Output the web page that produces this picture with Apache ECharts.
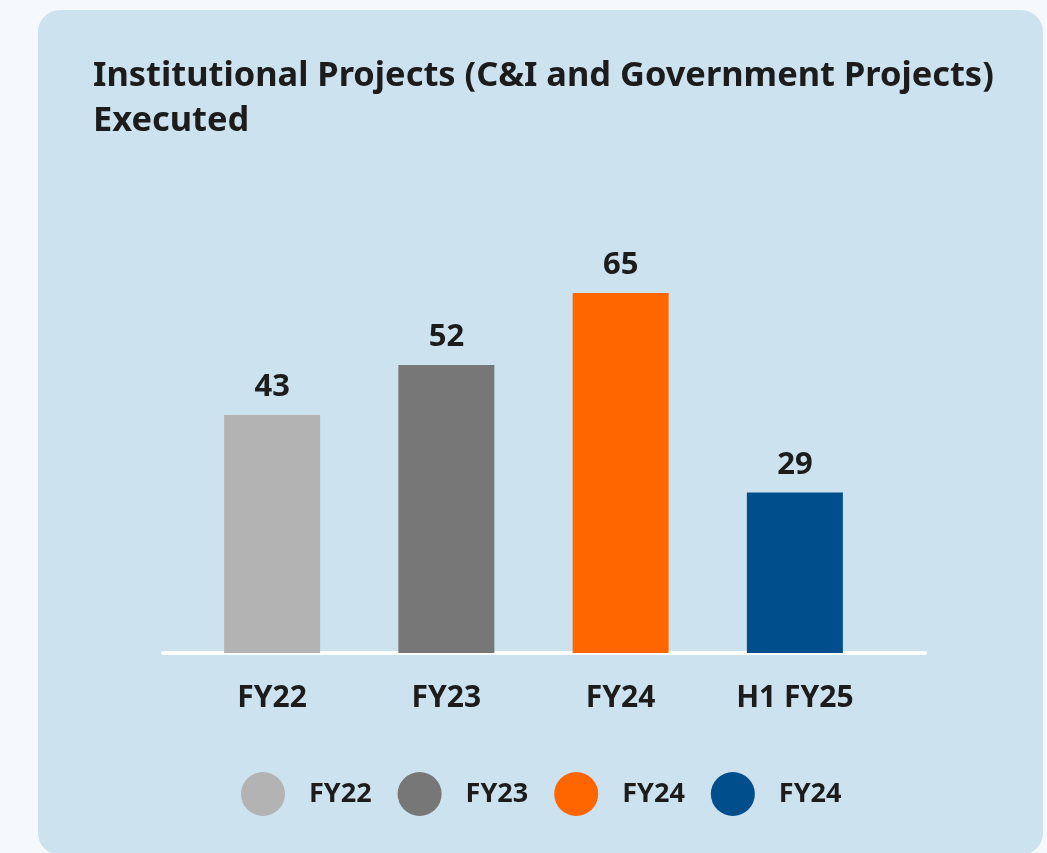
<!DOCTYPE html>
<html>
<head>
<meta charset="utf-8" />
<title>Institutional Projects Executed</title>
<script src="https://cdn.jsdelivr.net/npm/echarts@6/dist/echarts.min.js"></script>
<style>
  html,
  body {
    margin: 0;
    padding: 0;
    width: 1047px;
    height: 853px;
    overflow: hidden;
    background: #f5f9fc;
  }
  .panel {
    position: absolute;
    left: 38px;
    top: 10px;
    width: 1005px;
    height: 845px;
    border-radius: 22px;
    background: #cce2ef;
  }
  #projects_chart {
    position: absolute;
    left: 0;
    top: 0;
    width: 1047px;
    height: 853px;
  }
</style>
</head>
<body>
<div class="panel"></div>
<div id="projects_chart"></div>

<script>
  // data
  const categories = ["FY22", "FY23", "FY24", "H1 FY25"];
  const values = [43, 52, 65, 29];
  // legend text as printed in the original (last one really says FY24)
  const legendLabels = ["FY22", "FY23", "FY24", "FY24"];

  const barColors = ["#b3b3b3", "#777777", "#ff6600", "#004f8c"];
  const textColor = "#1c1c1c";
  const fontFamily = "'Noto Sans', sans-serif";

  const chartDom = document.getElementById("projects_chart");
  const projectsChart = echarts.init(chartDom, null, { renderer: "canvas" });

  // one series per year so each gets its own colour and legend entry
  const series = categories.map(function (name, i) {
    return {
      name: name,
      type: "bar",
      xAxisIndex: 0,
      yAxisIndex: 0,
      barWidth: 96,
      barGap: "-100%",
      data: values.map(function (v, j) {
        return j === i ? v : "-";
      }),
      itemStyle: {
        color: barColors[i],
      },
      label: {
        show: true,
        position: "top",
        distance: 12,
        color: textColor,
        fontSize: 31,
        fontWeight: "bold",
        fontFamily: fontFamily,
      },
    };
  });

  const option = {
    animation: false,
    backgroundColor: "transparent",
    title: {
      text: "Institutional Projects (C&I and Government Projects)\nExecuted",
      left: 93,
      top: 54,
      padding: 0,
      textStyle: {
        color: textColor,
        fontSize: 34.4,
        lineHeight: 45,
        fontWeight: "bold",
        fontFamily: fontFamily,
      },
    },
    legend: {
      left: 241,
      top: 772,
      padding: 0,
      itemWidth: 44,
      itemHeight: 44,
      itemGap: 26,
      icon: "path://M50,0A50,50,0,1,1,50,100A50,50,0,1,1,50,0Z",
      selectedMode: false,
      data: categories,
      formatter: function (name) {
        return legendLabels[categories.indexOf(name)];
      },
      textStyle: {
        color: textColor,
        fontSize: 27,
        fontWeight: "bold",
        fontFamily: fontFamily,
        padding: [0, 0, 0, 19],
      },
    },
    grid: [
      {
        left: 185,
        right: 165,
        top: 210,
        bottom: 200,
      },
      {
        // only carries the long white baseline
        left: 163,
        right: 122,
        top: 600,
        bottom: 200,
      },
    ],
    xAxis: [
      {
        type: "category",
        gridIndex: 0,
        data: categories,
        axisLine: { show: false },
        axisTick: { show: false },
        axisLabel: {
          margin: 30,
          color: textColor,
          fontSize: 30,
          fontWeight: "bold",
          fontFamily: fontFamily,
        },
      },
      {
        type: "value",
        gridIndex: 1,
        min: 0,
        max: 1,
        axisLine: {
          show: true,
          lineStyle: {
            color: "#ffffff",
            width: 4,
          },
        },
        axisTick: { show: false },
        axisLabel: { show: false },
        splitLine: { show: false },
      },
    ],
    yAxis: [
      {
        type: "value",
        gridIndex: 0,
        min: 0,
        max: 80,
        show: false,
      },
      {
        type: "value",
        gridIndex: 1,
        show: false,
      },
    ],
    series: series,
  };

  option && projectsChart.setOption(option);
</script>
</body>
</html>
